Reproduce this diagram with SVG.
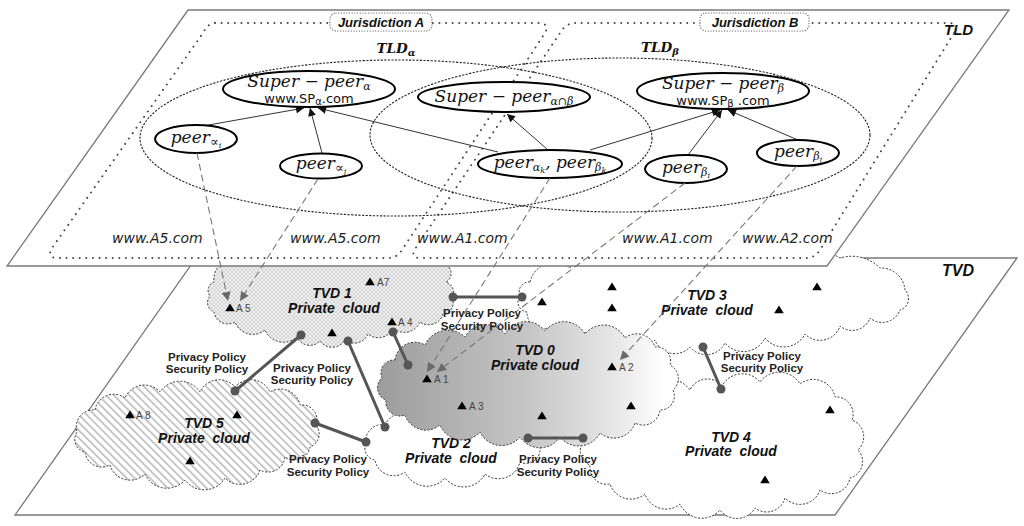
<svg xmlns="http://www.w3.org/2000/svg" width="1024" height="526" viewBox="0 0 1024 526">
<style>
.plane{fill:#fff;stroke:#7a7a7a;stroke-width:1.3}
.cloud{stroke:#333;stroke-width:1;stroke-dasharray:2 1.6}
.jur{fill:none;stroke:#444;stroke-width:1.9;stroke-dasharray:0.1 6.5;stroke-linecap:round}
.jbox{fill:#fff;stroke:#555;stroke-width:1.2;stroke-dasharray:0.1 2.6;stroke-linecap:round}
.tld{fill:none;stroke:#222;stroke-width:1.1;stroke-dasharray:2.2 1.4}
.node{fill:#fff;stroke:#000;stroke-width:2}
.m{font-family:"DejaVu Serif",serif;font-style:italic;font-size:17px;fill:#111}
.w{font-family:"DejaVu Sans",sans-serif;font-size:13px;fill:#111}
.url{font-family:"DejaVu Sans",sans-serif;font-style:italic;font-size:14px;fill:#222}
.bi{font-family:"Liberation Sans",Arial,sans-serif;font-weight:bold;font-style:italic;fill:#111}
.tvd{font-family:"Liberation Sans",Arial,sans-serif;font-weight:bold;font-style:italic;font-size:14px;fill:#111;text-anchor:middle;white-space:pre}
.pol{font-family:"Liberation Sans",Arial,sans-serif;font-weight:bold;font-size:11.5px;fill:#222;text-anchor:middle}
.al{font-family:"Liberation Sans",Arial,sans-serif;font-size:10px;fill:#444}
.arr{stroke:#333;stroke-width:1;fill:none;marker-end:url(#ah)}
.darr{stroke:#777;stroke-width:1.1;fill:none;stroke-dasharray:7 4;marker-end:url(#ahg)}
.link{stroke:#555;stroke-width:3;fill:none}
.dot{fill:#555}
</style>
<defs>
<marker id="ah" viewBox="0 0 10 10" refX="10" refY="5" markerWidth="10" markerHeight="8" markerUnits="userSpaceOnUse" orient="auto"><path d="M0,0 L10,5 L0,10 z" fill="#111"/></marker>
<marker id="ahg" viewBox="0 0 10 10" refX="10" refY="5" markerWidth="11" markerHeight="9" markerUnits="userSpaceOnUse" orient="auto"><path d="M0,0 L10,5 L0,10 z" fill="#6a6a6a"/></marker>
<path id="tri" d="M0,-4.5 L4.8,3.2 L-4.8,3.2 Z" fill="#000"/>
<pattern id="xh" width="4" height="4" patternUnits="userSpaceOnUse"><rect width="4" height="4" fill="#f0f0f0"/><path d="M0,0 L4,4 M4,0 L0,4" stroke="#c2c2c2" stroke-width="0.6"/></pattern>
<pattern id="hatch" width="6" height="5.5" patternUnits="userSpaceOnUse" patternTransform="rotate(45)"><rect width="6" height="5.5" fill="#fff"/><line x1="0" y1="1" x2="6" y2="1" stroke="#6a6a6a" stroke-width="0.75"/></pattern>
<linearGradient id="g0" x1="0" y1="0" x2="1" y2="0"><stop offset="0" stop-color="#9c9c9c"/><stop offset="0.5" stop-color="#c6c6c6"/><stop offset="0.8" stop-color="#e8e8e8"/><stop offset="0.95" stop-color="#fff"/></linearGradient>
</defs>

<g id="tvd-plane">
<polygon class="plane" points="196,258 1017,258 835,515 15,515"/>
<text class="bi" x="942" y="276" font-size="16">TVD</text>
</g>

<g id="tvd3">
<path class="cloud" fill="#fff" d="M530,282 A25,25 0 0 1 570,268 A30,30 0 0 1 620,260 A36,36 0 0 1 680,256 A36,36 0 0 1 740,256 A36,36 0 0 1 800,256 A40,40 0 0 1 840,258 A40,40 0 0 1 880,268 A24,24 0 0 1 905,290 A12,12 0 0 1 900,310 A19,19 0 0 1 870,318 A19,19 0 0 1 840,326 A21,21 0 0 1 805,334 A24,24 0 0 1 765,338 A24,24 0 0 1 725,343 A21,21 0 0 1 690,347 A21,21 0 0 1 655,340 A21,21 0 0 1 620,335 A21,21 0 0 1 585,332 A21,21 0 0 1 550,327 A16,16 0 0 1 527,312 A10,10 0 0 1 520,296 A10,10 0 0 1 530,282 Z"/>
<text class="tvd" x="707" y="300">TVD 3</text>
<text class="tvd" x="707" y="315">Private  cloud</text>
<use href="#tri" x="612" y="287"/><use href="#tri" x="612" y="308"/><use href="#tri" x="542" y="302"/><use href="#tri" x="817" y="287"/><use href="#tri" x="779" y="310"/>
</g>

<g id="tvd4">
<path class="cloud" fill="#fff" d="M600,410 A26,26 0 0 1 640,393 A30,30 0 0 1 690,390 A19,19 0 0 1 722,386 A23,23 0 0 1 760,382 A24,24 0 0 1 800,384 A22,22 0 0 1 835,397 A17,17 0 0 1 852,420 A18,18 0 0 1 858,450 A17,17 0 0 1 850,478 A19,19 0 0 1 820,490 A21,21 0 0 1 785,498 A19,19 0 0 1 755,508 A21,21 0 0 1 720,510 A24,24 0 0 1 680,504 A22,22 0 0 1 645,494 A22,22 0 0 1 610,484 A17,17 0 0 1 590,465 A15,15 0 0 1 585,440 A20,20 0 0 1 600,410 Z"/>
<text class="tvd" x="731" y="442">TVD 4</text>
<text class="tvd" x="731" y="456">Private  cloud</text>
<use href="#tri" x="830" y="410"/><use href="#tri" x="765" y="480"/>
</g>

<g id="tvd2">
<path class="cloud" fill="#fff" d="M385,425 A21,21 0 0 1 420,420 A24,24 0 0 1 460,418 A24,24 0 0 1 500,420 A22,22 0 0 1 535,428 A12,12 0 0 1 540,448 A14,14 0 0 1 520,462 A22,22 0 0 1 485,474 A24,24 0 0 1 445,478 A24,24 0 0 1 405,472 A19,19 0 0 1 375,460 A12,12 0 0 1 366,443 A16,16 0 0 1 385,425 Z"/>
<text class="tvd" x="451" y="448">TVD 2</text>
<text class="tvd" x="451" y="463">Private  cloud</text>
</g>

<g id="tvd5">
<path class="cloud" fill="url(#hatch)" d="M95,410 A19,19 0 0 1 125,398 A21,21 0 0 1 160,392 A24,24 0 0 1 200,392 A21,21 0 0 1 235,387 A21,21 0 0 1 270,392 A20,20 0 0 1 300,405 A15,15 0 0 1 316,425 A14,14 0 0 1 310,447 A16,16 0 0 1 285,457 A17,17 0 0 1 260,470 A21,21 0 0 1 225,478 A24,24 0 0 1 185,480 A24,24 0 0 1 145,474 A21,21 0 0 1 110,465 A17,17 0 0 1 85,452 A13,13 0 0 1 77,432 A17,17 0 0 1 95,410 Z"/>
<text class="tvd" x="204" y="428">TVD 5</text>
<text class="tvd" x="204" y="443">Private  cloud</text>
<use href="#tri" x="130" y="415"/><text class="al" x="136" y="419">A 8</text>
<use href="#tri" x="237" y="415"/><use href="#tri" x="190" y="461"/>
</g>

<g id="tvd1">
<path class="cloud" fill="url(#xh)" d="M240,258 A38,38 0 0 1 300,252 A38,38 0 0 1 360,252 A38,38 0 0 1 420,255 A18,18 0 0 1 448,266 A10,10 0 0 1 446,282 A11,11 0 0 1 452,298 A11,11 0 0 1 443,314 A15,15 0 0 1 420,322 A17,17 0 0 1 393,328 A16,16 0 0 1 368,334 A15,15 0 0 1 345,340 A15,15 0 0 1 320,341 A14,14 0 0 1 297,337 A20,20 0 0 1 265,330 A19,19 0 0 1 235,322 A14,14 0 0 1 214,312 A10,10 0 0 1 210,296 A9,9 0 0 1 214,282 A22,22 0 0 1 240,258 Z"/>
<text class="tvd" x="332" y="298">TVD 1</text>
<text class="tvd" x="334" y="313">Private  cloud</text>
<use href="#tri" x="230" y="308"/><text class="al" x="236" y="312">A 5</text>
<use href="#tri" x="370" y="282"/><text class="al" x="377" y="286">A7</text>
<use href="#tri" x="392" y="322"/><text class="al" x="398" y="326">A 4</text>
<use href="#tri" x="332" y="333"/>
</g>

<g id="tvd0">
<path class="cloud" fill="url(#g0)" d="M395,360 A20,20 0 0 1 425,345 A25,25 0 0 1 465,337 A24,24 0 0 1 505,334 A24,24 0 0 1 545,331 A24,24 0 0 1 585,334 A24,24 0 0 1 625,338 A19,19 0 0 1 655,347 A14,14 0 0 1 670,365 A15,15 0 0 1 673,390 A14,14 0 0 1 660,410 A17,17 0 0 1 635,423 A22,22 0 0 1 600,433 A24,24 0 0 1 560,437 A24,24 0 0 1 520,437 A24,24 0 0 1 480,432 A24,24 0 0 1 440,425 A22,22 0 0 1 405,415 A14,14 0 0 1 386,400 A13,13 0 0 1 382,378 A13,13 0 0 1 395,360 Z"/>
<text class="tvd" x="535" y="355">TVD 0</text>
<text class="tvd" x="535" y="370">Private cloud</text>
<use href="#tri" x="427" y="379"/><text class="al" x="434" y="383">A 1</text>
<use href="#tri" x="462" y="406"/><text class="al" x="469" y="410">A 3</text>
<use href="#tri" x="542" y="416"/>
<use href="#tri" x="612" y="367"/><text class="al" x="619" y="371">A 2</text>
<use href="#tri" x="631" y="406"/>
</g>

<g id="tvd-links">
<line class="link" x1="453" y1="297" x2="522" y2="297"/><circle class="dot" cx="453" cy="297" r="4.5"/><circle class="dot" cx="522" cy="297" r="4.5"/>
<line class="link" x1="393" y1="332" x2="408" y2="365"/><circle class="dot" cx="393" cy="332" r="4.5"/><circle class="dot" cx="408" cy="365" r="4.5"/>
<line class="link" x1="301" y1="335" x2="235" y2="391"/><circle class="dot" cx="301" cy="335" r="4.5"/><circle class="dot" cx="235" cy="391" r="4.5"/>
<line class="link" x1="348" y1="341" x2="385" y2="427"/><circle class="dot" cx="348" cy="341" r="4.5"/><circle class="dot" cx="385" cy="427" r="4.5"/>
<line class="link" x1="315" y1="423" x2="366" y2="442"/><circle class="dot" cx="315" cy="423" r="4.5"/><circle class="dot" cx="366" cy="442" r="4.5"/>
<line class="link" x1="528" y1="438" x2="583" y2="438"/><circle class="dot" cx="528" cy="438" r="4.5"/><circle class="dot" cx="583" cy="438" r="4.5"/>
<line class="link" x1="703" y1="347" x2="721" y2="389"/><circle class="dot" cx="703" cy="347" r="4.5"/><circle class="dot" cx="721" cy="389" r="4.5"/>
<text class="pol" x="482" y="317">Privacy Policy</text><text class="pol" x="482" y="330">Security Policy</text>
<text class="pol" x="207" y="361">Privacy Policy</text><text class="pol" x="207" y="373">Security Policy</text>
<text class="pol" x="312" y="372">Privacy Policy</text><text class="pol" x="312" y="384">Security Policy</text>
<text class="pol" x="328" y="463">Privacy Policy</text><text class="pol" x="328" y="476">Security Policy</text>
<text class="pol" x="558" y="463">Privacy Policy</text><text class="pol" x="558" y="476">Security Policy</text>
<text class="pol" x="762" y="360">Privacy Policy</text><text class="pol" x="762" y="372">Security Policy</text>
</g>

<g id="tld-plane">
<polygon class="plane" points="188,10 1009,10 827,266 7,266"/>
<text class="bi" x="944" y="35" font-size="15">TLD</text>
</g>

<g id="jurisdiction-a">
<path class="jur" d="M215,23 L538,23 Q550,23 545,33 L402,250 Q397,258 388,258 L58,258 Q46,258 52,248 L203,33 Q208,23 215,23 Z"/>
<rect class="jbox" x="330" y="13" width="102" height="18" rx="6"/>
<text class="bi" x="381" y="27" font-size="13" text-anchor="middle">Jurisdiction A</text>
</g>
<g id="jurisdiction-b">
<path class="jur" d="M575,23 L948,23 Q960,23 954,33 L820,250 Q815,258 806,258 L420,258 Q410,258 415,249 L560,33 Q566,23 575,23 Z"/>
<rect class="jbox" x="700" y="13" width="109" height="18" rx="6"/>
<text class="bi" x="755" y="27" font-size="13" text-anchor="middle">Jurisdiction B</text>
</g>

<g id="tld-alpha">
<ellipse class="tld" cx="396" cy="138" rx="256" ry="78"/>
<text x="396" y="53" text-anchor="middle" font-family="DejaVu Serif,serif" font-weight="bold" font-style="italic" font-size="13.5" fill="#111">TLD<tspan font-size="10" dy="3">α</tspan></text>
</g>
<g id="tld-beta">
<ellipse class="tld" cx="620" cy="135" rx="250" ry="77"/>
<text x="660" y="52" text-anchor="middle" font-family="DejaVu Serif,serif" font-weight="bold" font-style="italic" font-size="13.5" fill="#111">TLD<tspan font-size="10" dy="3">β</tspan></text>
</g>

<g id="urls">
<text class="url" x="112" y="243">www.A5.com</text>
<text class="url" x="290" y="243">www.A5.com</text>
<text class="url" x="417" y="243">www.A1.com</text>
<text class="url" x="622" y="243">www.A1.com</text>
<text class="url" x="742" y="243">www.A2.com</text>
</g>

<g id="tld-arrows">
<line class="arr" x1="203" y1="126" x2="304" y2="108"/>
<line class="arr" x1="322" y1="153" x2="310" y2="108"/>
<line class="arr" x1="498" y1="152" x2="318" y2="108"/>
<line class="arr" x1="548" y1="150" x2="507" y2="114"/>
<line class="arr" x1="590" y1="150" x2="720" y2="110"/>
<line class="arr" x1="688" y1="155" x2="722" y2="110"/>
<line class="arr" x1="798" y1="140" x2="728" y2="110"/>
</g>

<g id="super-peer-alpha">
<ellipse class="node" cx="309" cy="89" rx="86" ry="18"/>
<text class="m" x="309" y="87" text-anchor="middle">Super − peer<tspan font-size="11" dy="3">α</tspan></text>
<text class="w" x="309" y="103" text-anchor="middle">www.SP<tspan font-size="10" dy="2">α</tspan><tspan dy="-2">.com</tspan></text>
</g>
<g id="super-peer-alpha-beta">
<ellipse class="node" cx="504" cy="97" rx="86" ry="15"/>
<text class="m" x="504" y="102" text-anchor="middle">Super − peer<tspan font-size="11" dy="3">α∩β</tspan></text>
</g>
<g id="super-peer-beta">
<ellipse class="node" cx="723" cy="91" rx="86" ry="18"/>
<text class="m" x="723" y="89" text-anchor="middle">Super − peer<tspan font-size="11" dy="3">β</tspan></text>
<text class="w" x="723" y="105" text-anchor="middle">www.SP<tspan font-size="10" dy="2">β</tspan><tspan dy="-2"> .com</tspan></text>
</g>
<g id="peer-alpha-i">
<ellipse class="node" cx="196" cy="139" rx="41" ry="14"/>
<text class="m" x="196" y="143" text-anchor="middle">peer<tspan font-size="13" dy="3">∝</tspan><tspan font-size="8" dy="2">i</tspan></text>
</g>
<g id="peer-alpha-j">
<ellipse class="node" cx="321" cy="166" rx="41" ry="12.5"/>
<text class="m" x="321" y="169" text-anchor="middle">peer<tspan font-size="13" dy="3">∝</tspan><tspan font-size="8" dy="2">j</tspan></text>
</g>
<g id="peer-alpha-k-beta-k">
<ellipse class="node" cx="550" cy="164" rx="72" ry="14"/>
<text class="m" x="550" y="168" text-anchor="middle">peer<tspan font-size="11" dy="3">α</tspan><tspan font-size="8" dy="2">k</tspan><tspan dy="-5">, peer</tspan><tspan font-size="11" dy="3">β</tspan><tspan font-size="8" dy="2">k</tspan></text>
</g>
<g id="peer-beta-i">
<ellipse class="node" cx="686" cy="169" rx="41" ry="14"/>
<text class="m" x="686" y="173" text-anchor="middle">peer<tspan font-size="11" dy="3">β</tspan><tspan font-size="8" dy="2">i</tspan></text>
</g>
<g id="peer-beta-j">
<ellipse class="node" cx="798" cy="153" rx="41" ry="13"/>
<text class="m" x="798" y="157" text-anchor="middle">peer<tspan font-size="11" dy="3">β</tspan><tspan font-size="8" dy="2">j</tspan></text>
</g>

<g id="mapping-arrows">
<line class="darr" x1="197" y1="153" x2="228" y2="301"/>
<line class="darr" x1="318" y1="179" x2="240" y2="301"/>
<line class="darr" x1="550" y1="178" x2="427" y2="372"/>
<line class="darr" x1="685" y1="183" x2="437" y2="372"/>
<line class="darr" x1="797" y1="166" x2="620" y2="360"/>
</g>
</svg>
